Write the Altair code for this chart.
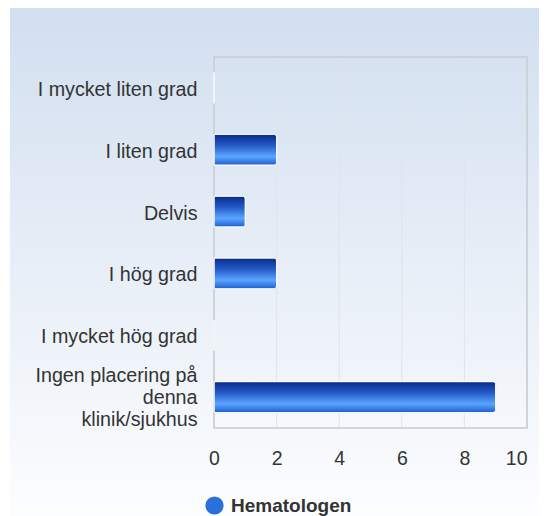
import altair as alt
import pandas as pd

categories = [
    "I mycket liten grad",
    "I liten grad",
    "Delvis",
    "I hög grad",
    "I mycket hög grad",
    "Ingen placering på denna klinik/sjukhus",
]
values = [0, 2, 1, 2, 0, 9]
series_name = "Hematologen"
x_ticks = [0, 2, 4, 6, 8, 10]

df = pd.DataFrame({"cat": categories, "val": values, "series": [series_name] * len(categories)})
grid_df = pd.DataFrame({"t": x_ticks})

W, H = 313, 371
FONT = "Liberation Sans"
LONG = "Ingen placering på denna klinik/sjukhus"

bar_grad = {
    "gradient": "linear", "x1": 0, "y1": 0, "x2": 0, "y2": 1,
    "stops": [
        {"offset": 0, "color": "#0a2a88"},
        {"offset": 0.35, "color": "#2358c6"},
        {"offset": 0.72, "color": "#5aa6ff"},
        {"offset": 1, "color": "#1e5dcf"},
    ],
}
bg_grad = {
    "gradient": "linear", "x1": 0, "y1": 0, "x2": 0, "y2": 1,
    "stops": [
        {"offset": 0, "color": "#d2dff0"},
        {"offset": 1, "color": "#ffffff"},
    ],
}

x_scale = alt.Scale(domain=[0, 10], nice=False)
x_axis = alt.Axis(values=x_ticks, labelFontSize=19.5, labelFont=FONT, labelColor="#333333",
                  labelPadding=21, ticks=False, domain=False, grid=False, zindex=2,
                  labelAlign={"condition": {"test": "datum.value == 10", "value": "right"}, "value": "center"})

bg = alt.Chart(pd.DataFrame({"a": [0]})).mark_rect(fill=bg_grad, clip=False).encode(
    x=alt.value(-204), x2=alt.value(W + 40), y=alt.value(-49), y2=alt.value(H + 120)
)

grid = alt.Chart(grid_df).mark_rule(color="#e0e4ea", strokeWidth=1).encode(
    x=alt.X("t:Q", scale=x_scale, axis=x_axis, title=None)
)

frame = alt.Chart(pd.DataFrame({"a": [0]})).mark_rect(
    fill="transparent", stroke="#c8ccd2", strokeWidth=1.5
).encode(x=alt.value(0), x2=alt.value(W), y=alt.value(0), y2=alt.value(H))

label_expr = (
    f"datum.label == '{LONG}' ? "
    "['Ingen placering på', 'denna', 'klinik/sjukhus'] : datum.label"
)

y_enc = alt.Y(
    "cat:N", sort=categories, title=None,
    scale=alt.Scale(paddingInner=0.5, paddingOuter=0.25),
    axis=alt.Axis(labelExpr=label_expr, labelFontSize=19.7, labelFont=FONT, labelColor="#333333",
                  labelPadding=17, ticks=False, domain=False, grid=False, labelLineHeight=22,
                  labelLimit=300, zindex=2,
                  labelOffset={"condition": {"test": f"datum.value == '{LONG}'", "value": -21}, "value": 2}),
)

bars_legend = alt.Chart(df).mark_bar(cornerRadiusEnd=3, opacity=1).encode(
    x=alt.X("val:Q", title=None, scale=x_scale, axis=x_axis), y=y_enc,
    color=alt.Color(
        "series:N", scale=alt.Scale(range=["#2a6fdc"]), title=None,
        legend=alt.Legend(
            orient="none", legendX=-9, legendY=439, symbolType="circle", symbolSize=330,
            labelFontSize=19, labelFont=FONT, labelFontWeight="bold", labelColor="#333333",
            symbolStrokeWidth=0, labelOffset=7,
        ),
    ),
)
bars_grad = alt.Chart(df).mark_bar(cornerRadiusEnd=3, fill=bar_grad, stroke="#ffffff", strokeWidth=1).encode(
    x=alt.X("val:Q", scale=x_scale), y=alt.Y("cat:N", sort=categories)
)

chart = alt.layer(bg, grid, frame, bars_legend, bars_grad).properties(
    width=W, height=H,
    autosize=alt.AutoSizeParams(type="none"),
    padding={"left": 206, "top": 49, "right": 12, "bottom": 88},
    background="#ffffff",
).configure_view(stroke=None)

chart.save("out.html", embed_options={"renderer": "svg", "actions": False})
